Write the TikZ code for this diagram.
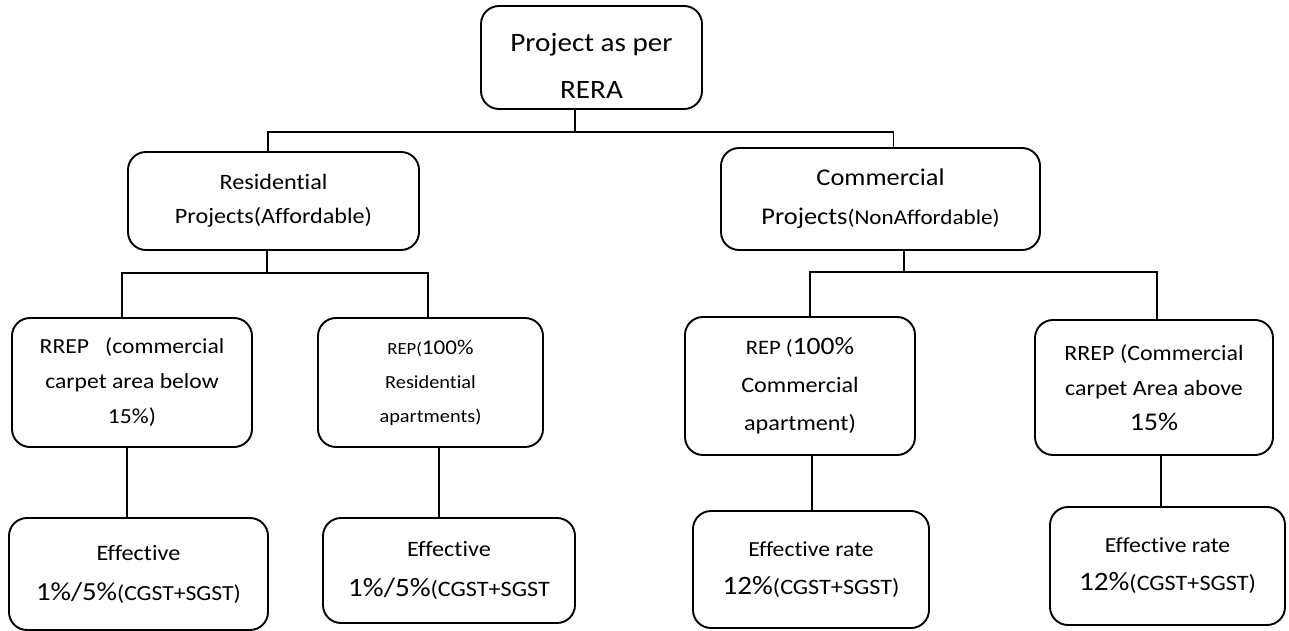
\documentclass[tikz,border=0pt]{standalone}
\usepackage{fontspec}
\setmainfont{Carlito}[FakeStretch=1.1, Ligatures=NoCommon]
\usetikzlibrary{positioning}
\newcommand{\sz}[2]{{\fontsize{#1}{#1}\selectfont #2}}

\begin{document}
\begin{tikzpicture}[x=1pt, y=-1pt,
  box/.style={draw, rounded corners=18pt, line width=1.9pt, align=center, inner sep=0pt},
  link/.style={line width=1.9pt}
]
\useasboundingbox (0,0) rectangle (1289,631);
% levels
\node[box, minimum width=221pt, minimum height=103pt, font=\fontsize{26.5}{47}\selectfont] (rera) at (591.5,57.5) {\rule{0pt}{36pt}Project as per\\RERA};
\node[box, minimum width=291pt, minimum height=98pt, font=\fontsize{22}{34}\selectfont] (resi) at (273.5,201) {Residential\\Projects(Affordable)};
\node[box, minimum width=319pt, minimum height=102pt, font=\fontsize{24}{39}\selectfont] (comm) at (880.5,199) {Commercial\\Projects\sz{21}{(NonAffordable)}};

\node[box, minimum width=240pt, minimum height=129pt, font=\fontsize{21.5}{35}\selectfont] (rrepA) at (132,382.5) {RREP\ \ \ (commercial\\carpet area below\\15\%)};
\node[box, minimum width=225pt, minimum height=129pt, font=\fontsize{18.5}{34}\selectfont] (repA) at (430.5,382.5) {\sz{17}{REP(}\sz{21}{100\%}\\Residential\\apartments)};
\node[box, minimum width=230pt, minimum height=138pt, font=\fontsize{22}{38}\selectfont] (repB) at (800,386) {\sz{20.5}{REP (}\sz{25}{100\%}\\Commercial\\apartment)};
\node[box, minimum width=238pt, minimum height=135pt, font=\fontsize{21.8}{35}\selectfont] (rrepB) at (1154,387.5) {RREP (Commercial\\carpet Area above\\\sz{25.5}{15\%}};

\node[box, minimum width=259pt, minimum height=112pt, font=\fontsize{22}{40}\selectfont] (effA) at (138.5,574) {Effective\\\sz{26}{1\%/5\%}\sz{21.5}{(CGST+SGST)}};
\node[box, minimum width=252pt, minimum height=105pt, font=\fontsize{22}{40}\selectfont] (effB) at (449,570.5) {Effective\\\sz{26.5}{1\%/5\%}\sz{22}{(CGST+SGST}};
\node[box, minimum width=236pt, minimum height=117pt, font=\fontsize{21.5}{38}\selectfont] (effC) at (811,569.5) {Effective rate\\\sz{26.5}{12\%}\sz{22}{(CGST+SGST)}};
\node[box, minimum width=235pt, minimum height=118pt, font=\fontsize{21.5}{38}\selectfont] (effD) at (1167.5,566) {Effective rate\\\sz{26.5}{12\%}\sz{22}{(CGST+SGST)}};

% branch bars
\coordinate (bar0) at (0,132);
\coordinate (bar1) at (0,273);
\coordinate (bar2) at (0,272);
\draw[link] ([xshift=-16.5pt]rera.south) -- ([xshift=-16.5pt]rera.south |- bar0);
\draw[link] ([xshift=-5.5pt]resi.north) -- ([xshift=-5.5pt]resi.north |- bar0) -- ([xshift=13pt]comm.north |- bar0) -- ([xshift=13pt]comm.north);
\draw[link] ([xshift=-6.5pt]resi.south) -- ([xshift=-6.5pt]resi.south |- bar1);
\draw[link] ([xshift=-10pt]rrepA.north) -- ([xshift=-10pt]rrepA.north |- bar1) -- ([xshift=-2.5pt]repA.north |- bar1) -- ([xshift=-2.5pt]repA.north);
\draw[link] ([xshift=23.5pt]comm.south) -- ([xshift=23.5pt]comm.south |- bar2);
\draw[link] ([xshift=10pt]repB.north) -- ([xshift=10pt]repB.north |- bar2) -- ([xshift=3pt]rrepB.north |- bar2) -- ([xshift=3pt]rrepB.north);

% down to rates
\draw[link] ([xshift=-5pt]rrepA.south) -- ([xshift=-5pt]rrepA.south |- effA.north);
\draw[link] ([xshift=8.5pt]repA.south) -- ([xshift=8.5pt]repA.south |- effB.north);
\draw[link] ([xshift=12pt]repB.south) -- ([xshift=12pt]repB.south |- effC.north);
\draw[link] ([xshift=7pt]rrepB.south) -- ([xshift=7pt]rrepB.south |- effD.north);
\end{tikzpicture}
\end{document}
